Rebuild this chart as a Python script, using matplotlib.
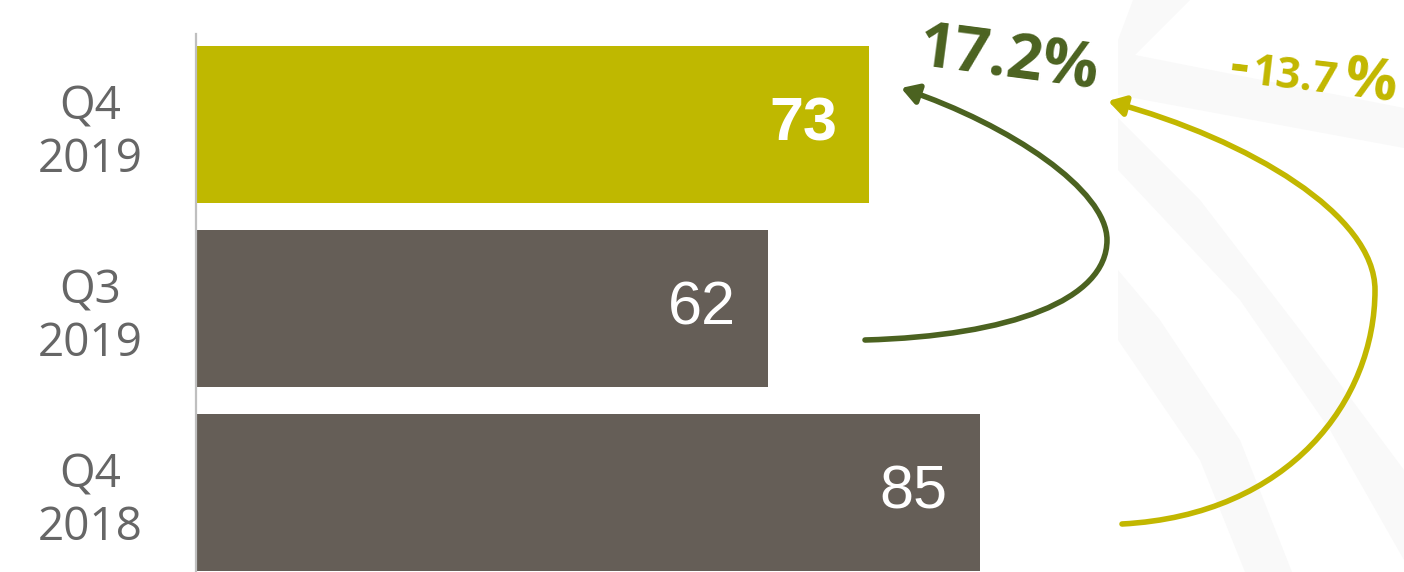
import matplotlib as mpl
mpl.use('Agg')
import matplotlib.pyplot as plt
from matplotlib.path import Path
from matplotlib.patches import FancyArrowPatch, Polygon

# data
periods = ['Q4\n2018', 'Q3\n2019', 'Q4\n2019']
counts = [85, 62, 73]
bar_colors = ['#655e57', '#655e57', '#bfb800']
value_weights = ['normal', 'normal', 'bold']
change_q = '17.2%'     # Q3 2019 -> Q4 2019
change_y = '-13.7%'    # Q4 2018 -> Q4 2019

W, H = 1404, 572
fig = plt.figure(figsize=(W / 100, H / 100), dpi=100)


def px(x, y):
    # pixel position (from top-left) -> figure fraction
    return (x / W, 1 - y / H)


# faint watermark bands in the background
wm = '#f9f9f9'
for poly in [
    [(1133, 0), (1190, 0), (1135, 55), (1404, 108), (1404, 148), (1118, 95), (1118, 40)],
    [(1118, 118), (1118, 170), (1240, 300), (1330, 430), (1404, 560), (1404, 470), (1300, 330), (1200, 200)],
    [(1118, 270), (1118, 340), (1200, 460), (1245, 572), (1292, 572), (1240, 440), (1160, 320)],
]:
    fig.add_artist(Polygon([px(*p) for p in poly], closed=True, transform=fig.transFigure,
                           facecolor=wm, edgecolor='none', zorder=0))

ax = fig.add_axes([196 / W, 0, 1 - 196 / W, 1])
ax.patch.set_visible(False)
ys = range(len(periods))
ax.barh(ys, counts, height=0.853, color=bar_colors, zorder=2)
ax.set_xlim(0, 131)
ax.set_ylim(-0.432, 2.677)

for s in ['top', 'right', 'bottom']:
    ax.spines[s].set_visible(False)
ax.spines['left'].set_color('#bfbfbf')
ax.spines['left'].set_linewidth(1.6)
ax.spines['left'].set_bounds(-0.432, 2.49)
ax.spines['left'].set_zorder(3)
ax.set_xticks([])
ax.set_yticks(list(ys))
ax.set_yticklabels(periods, fontsize=33, color='#666666', family='Open Sans',
                   ha='center', linespacing=1.2)
ax.tick_params(axis='y', length=0, pad=76)

for y, v, w in zip(ys, counts, value_weights):
    ax.annotate(str(v), (v, y), xytext=(-23, 0), textcoords='offset points',
                ha='right', va='center', color='white', fontsize=44,
                fontweight=w, family='Liberation Sans', zorder=4)

# change labels
green = '#4b6220'
yellow = '#c2b700'
fig.text(*px(916, 66), change_q, color=green, fontsize=45, fontweight='bold',
         family='Open Sans', rotation=-7.5, rotation_mode='anchor',
         ha='left', va='baseline')
fig.text(*px(1228, 82), change_y[0], color=yellow, fontsize=42, fontweight='bold',
         family='Open Sans', rotation=-6.7, rotation_mode='anchor',
         ha='left', va='baseline')
fig.text(*px(1250, 84), change_y[1:-1], color=yellow, fontsize=31, fontweight='bold',
         family='Open Sans', rotation=-6.7, rotation_mode='anchor',
         ha='left', va='baseline')
fig.text(*px(1342, 96), change_y[-1], color=yellow, fontsize=42, fontweight='bold',
         family='Open Sans', rotation=-6.7, rotation_mode='anchor',
         ha='left', va='baseline')

# curved arrows
codes = [Path.MOVETO] + [Path.CURVE4] * 6
green_pts = [(865, 340), (1010, 336), (1107, 300), (1107, 240),
             (1107, 190), (1010, 125), (901, 88)]
yellow_pts = [(1122, 524), (1290, 515), (1375, 400), (1375, 290),
              (1375, 215), (1250, 140), (1108, 101)]
for pts, c in [(green_pts, green), (yellow_pts, yellow)]:
    arr = FancyArrowPatch(path=Path([px(*p) for p in pts], codes),
                          arrowstyle='-|>,head_length=0.5,head_width=0.3',
                          mutation_scale=20, color=c, lw=4,
                          transform=fig.transFigure)
    fig.add_artist(arr)

fig.savefig('out.png', dpi=100)
